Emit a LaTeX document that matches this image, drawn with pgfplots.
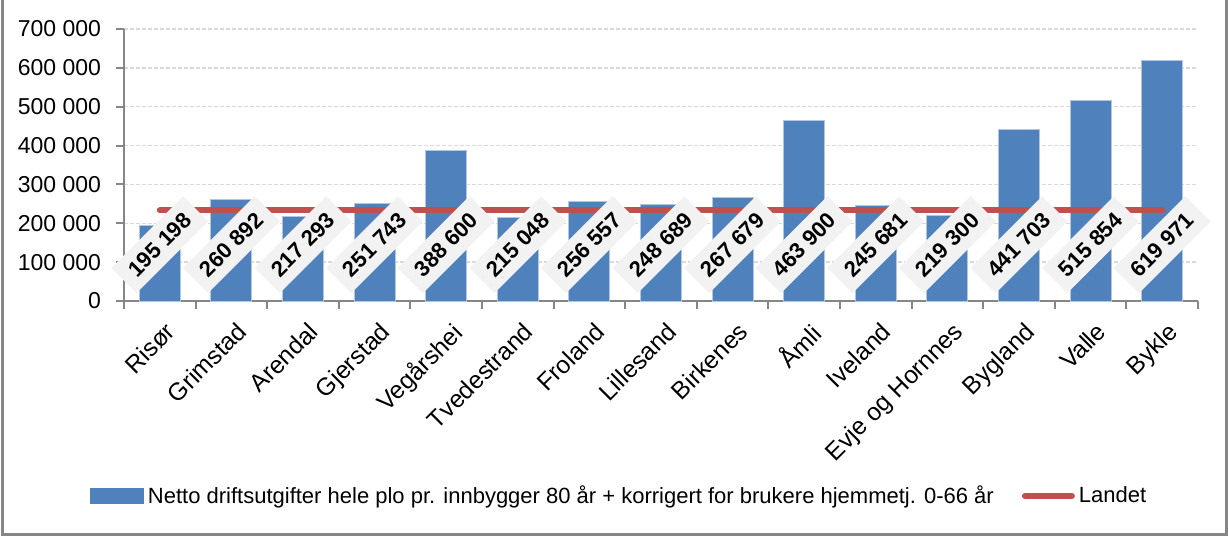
\documentclass[border=0pt]{standalone}
\usepackage{fontspec}
\setmainfont{Liberation Sans}
\usepackage{pgfplots}
\pgfplotsset{compat=1.18}
\definecolor{barblue}{HTML}{4F81BD}
\definecolor{linered}{HTML}{C0504D}
\definecolor{axgray}{HTML}{868686}
\definecolor{gridgray}{HTML}{D9D9D9}
\definecolor{lblfill}{HTML}{F2F2F2}
\begin{document}
\begin{tikzpicture}
\begin{axis}[
  at={(0pt,0pt)}, anchor=south west,
  scale only axis, width=537pt, height=136pt,
  xmin=-0.5, xmax=14.5, ymin=0, ymax=700000,
  scaled y ticks=false,
  axis x line*=bottom, axis y line*=left,
  axis line style={axgray, line width=1.2pt},
  tick style={axgray, line width=1pt},
  tick align=outside, major tick length=4pt,
  ytick={0,100000,200000,300000,400000,500000,600000,700000},
  yticklabels={0,100 000,200 000,300 000,400 000,500 000,600 000,700 000},
  yticklabel style={font=\fontsize{11.5}{13}\selectfont, xshift=-4pt},
  ymajorgrids,
  grid style={gridgray, line width=0.7pt, dash pattern=on 2pt off 1pt},
  xtick={-0.5,0.5,...,14.5}, xticklabels={},
  extra x ticks={0,1,2,3,4,5,6,7,8,9,10,11,12,13,14},
  extra x tick labels={Risør,Grimstad,Arendal,Gjerstad,Vegårshei,Tvedestrand,Froland,Lillesand,Birkenes,Åmli,Iveland,Evje og Hornnes,Bygland,Valle,Bykle},
  extra x tick style={major tick length=0pt, grid=none,
    tick label style={rotate=45, anchor=north east, font=\fontsize{12.3}{14}\selectfont, xshift=-2pt, yshift=-5pt}},
  legend style={at={(0.462,-0.717)}, anchor=center, draw=none, fill=none,
    legend columns=2, font=\fontsize{11}{13}\selectfont,
    /tikz/every even column/.append style={column sep=12pt}},
]
\addplot[ybar, bar width=20.5pt, fill=barblue, draw=barblue!45!white, line width=0.4pt,
  legend image code/.code={\fill[barblue] (0pt,-3.75pt) rectangle (26.5pt,3.75pt);}]
  coordinates {(0,195198) (1,260892) (2,217293) (3,251743) (4,388600) (5,215048) (6,256557) (7,248689) (8,267679) (9,463900) (10,245681) (11,219300) (12,441703) (13,515854) (14,619971)};
\addlegendentry{Netto driftsutgifter hele plo pr. innbygger 80 år + korrigert for brukere hjemmetj. 0-66 år}
\addplot[linered, line width=3pt, line cap=round,
  legend image code/.code={\draw[linered, line width=3pt] (0pt,0pt) -- (23.5pt,0pt);}]
  coordinates {(0,233000) (14,233000)};
\addlegendentry{Landet}
\addplot[draw=none, mark=none, forget plot, nodes near coords, point meta=explicit symbolic,
  nodes near coords style={anchor=center, rotate=45, fill=lblfill, text=black,
    font=\fontsize{11}{12}\selectfont\bfseries, inner xsep=5.5pt, inner ysep=5pt}]
  coordinates {(0,145000) [195 198] (1,145000) [260 892] (2,145000) [217 293] (3,145000) [251 743] (4,145000) [388 600] (5,145000) [215 048] (6,145000) [256 557] (7,145000) [248 689] (8,145000) [267 679] (9,145000) [463 900] (10,145000) [245 681] (11,145000) [219 300] (12,145000) [441 703] (13,145000) [515 854] (14,145000) [619 971]};
\end{axis}
\draw[axgray, line width=1.5pt] (-60.5pt,152pt) -- (-60.5pt,-116.7pt) -- (551.2pt,-116.7pt) -- (551.2pt,152pt);
\pgfresetboundingbox
\path[use as bounding box] (-62pt,-118pt) rectangle (552pt,150.5pt);
\end{tikzpicture}
\end{document}
